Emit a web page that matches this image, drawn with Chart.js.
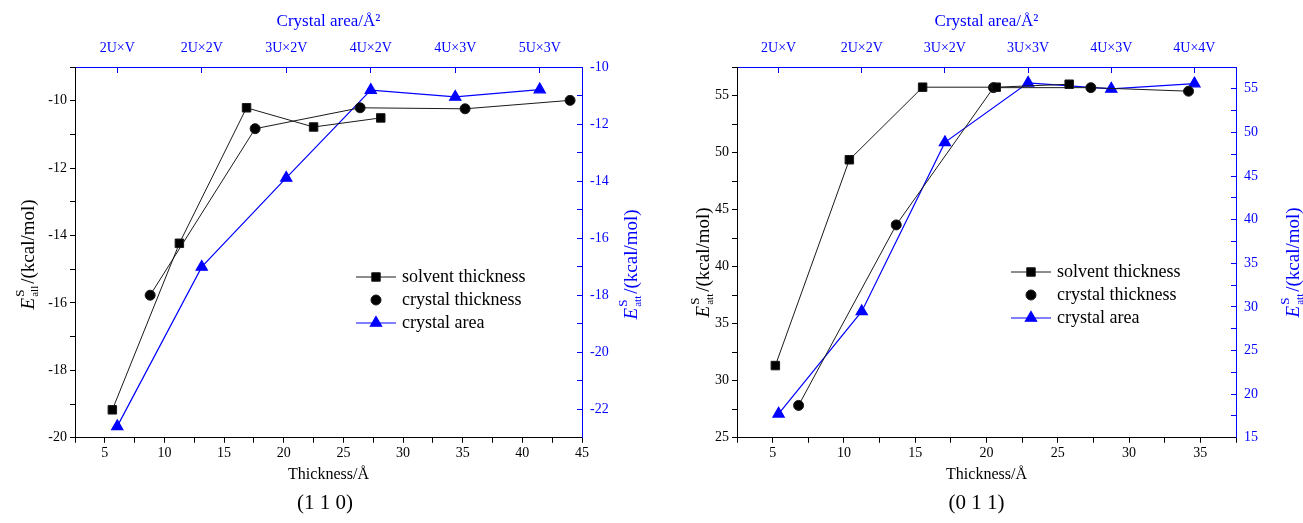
<!DOCTYPE html>
<html>
<head>
<meta charset="utf-8">
<script src="https://cdn.jsdelivr.net/npm/chart.js@4.4.0/dist/chart.umd.min.js"></script>
<style>
body { margin: 0; background: #fff; width: 1303px; height: 523px; overflow: hidden; position: relative; }
.box { position: absolute; top: 0; height: 523px; }
#b1 { left: 0; width: 650px; }
#b2 { left: 650px; width: 653px; }
</style>
</head>
<body>
<div class="box" id="b1"><canvas id="c110" width="650" height="523"></canvas></div>
<div class="box" id="b2"><canvas id="c011" width="653" height="523"></canvas></div>
<script>
// (1 1 0) face
let solvX110 = [5.63, 11.25, 16.88, 22.5, 28.13];
let solvE110 = [-19.17, -14.23, -10.21, -10.78, -10.51];
let crysX110 = [8.8, 17.6, 26.4, 35.2, 44.0];
let crysE110 = [-15.77, -10.83, -10.21, -10.24, -9.99];
let area110 = ["2U×V", "2U×2V", "3U×2V", "4U×2V", "4U×3V", "5U×3V"];
let areaE110 = [-22.6, -17.01, -13.89, -10.81, -11.05, -10.79];

// (0 1 1) face
let solvX011 = [5.19, 10.38, 15.52, 20.68, 25.8];
let solvE011 = [31.33, 49.37, 55.73, 55.73, 55.99];
let crysX011 = [6.82, 13.67, 20.49, 27.32, 34.17];
let crysE011 = [27.84, 43.66, 55.69, 55.69, 55.38];
let area011 = ["2U×V", "2U×2V", "3U×2V", "3U×3V", "4U×3V", "4U×4V"];
let areaE011 = [17.75, 29.48, 48.86, 55.68, 54.99, 55.6];

let legendNames = ["solvent thickness", "crystal thickness", "crystal area"];

const BLUE = "#0000ff";
const BLACK = "#1a1a1a";
const FONT = '"Liberation Serif", "Times New Roman", serif';

// draws E^S_sub/(kcal/mol) rotated, since axis titles can't do sub/sup
const eTitles = {
  id: "eTitles",
  afterDraw(chart, args, opts) {
    const ctx = chart.ctx;
    const mid = (chart.chartArea.top + chart.chartArea.bottom) / 2;
    opts.items.forEach(t => {
      ctx.save();
      ctx.translate(t.x, mid + t.dy);
      ctx.rotate(-Math.PI / 2);
      ctx.fillStyle = t.color;
      ctx.textAlign = "left";
      ctx.textBaseline = "alphabetic";
      ctx.font = "italic 19px " + FONT;
      let wE = ctx.measureText("E").width;
      ctx.font = "12px " + FONT;
      let wS = Math.max(ctx.measureText("S").width, ctx.measureText(t.sub).width);
      ctx.font = "19px " + FONT;
      let wR = ctx.measureText("/(kcal/mol)").width;
      let x0 = -(wE + wS + wR + 2) / 2;
      let base = 7;
      ctx.font = "italic 19px " + FONT;
      ctx.fillText("E", x0, base);
      ctx.font = "13px " + FONT;
      ctx.fillText("S", x0 + wE + 1, base - 10);
      ctx.font = "11px " + FONT;
      ctx.fillText(t.sub, x0 + wE + 1, base + 4);
      ctx.font = "19px " + FONT;
      ctx.fillText("/(kcal/mol)", x0 + wE + wS + 2, base);
      ctx.restore();
    });
  }
};

// legend with line + marker, like the original
const lineLegend = {
  id: "lineLegend",
  afterDraw(chart, args, opts) {
    const ctx = chart.ctx;
    chart.data.datasets.forEach((ds, i) => {
      let y = opts.y + i * opts.gap;
      ctx.save();
      ctx.strokeStyle = ds.borderColor;
      ctx.fillStyle = ds.backgroundColor;
      ctx.lineWidth = ds.borderWidth;
      if (opts.noLine.indexOf(i) < 0) {
        ctx.beginPath();
        ctx.moveTo(opts.x, y);
        ctx.lineTo(opts.x + 40, y);
        ctx.stroke();
      }
      Chart.helpers.drawPoint(ctx, { pointStyle: ds.pointStyle, radius: ds.pointRadius, borderWidth: 1, rotation: 0 }, opts.x + 20, y);
      ctx.fillStyle = "#000";
      ctx.font = "18px " + FONT;
      ctx.textBaseline = "middle";
      ctx.fillText(ds.label, opts.x + 46, y);
      ctx.restore();
    });
  }
};

function makeChart(id, o) {
  let ctx = document.getElementById(id).getContext("2d");
  let solv = o.solvX.map((x, i) => ({ x: x, y: o.solvE[i] }));
  let crys = o.crysX.map((x, i) => ({ x: x, y: o.crysE[i] }));
  let area = o.areaE.map((y, i) => ({ x: i, y: y }));
  let tickFont = { family: FONT, size: 14 };

  return new Chart(ctx, {
    type: "scatter",
    data: {
      datasets: [
        { label: legendNames[0], data: solv, xAxisID: "x", yAxisID: "y", showLine: true,
          borderColor: BLACK, backgroundColor: "#000", borderWidth: 1, pointStyle: "rect", pointRadius: 6 },
        { label: legendNames[1], data: crys, xAxisID: "x", yAxisID: "y", showLine: true,
          borderColor: BLACK, backgroundColor: "#000", borderWidth: 1, pointStyle: "circle", pointRadius: 5 },
        { label: legendNames[2], data: area, xAxisID: "x2", yAxisID: "y2", showLine: true,
          borderColor: BLUE, backgroundColor: BLUE, borderWidth: 1.2, pointStyle: "triangle", pointRadius: 6.5 }
      ]
    },
    options: {
      responsive: false,
      animation: false,
      layout: { padding: 0 },
      scales: {
        x: {
          type: "linear", position: "bottom", min: 2.5, max: o.xMax,
          ticks: { stepSize: 2.5, maxTicksLimit: 100, autoSkip: false, maxRotation: 0, color: "#000", font: tickFont, padding: 2,
            callback: v => (v % 5 === 0 ? v : "") },
          grid: { drawOnChartArea: false, tickLength: 5, tickColor: "#000" },
          border: { color: "#000", width: 1 },
          title: { display: true, text: "Thickness/Å", color: "#000", font: { family: FONT, size: 16 }, padding: { top: 0, bottom: 6 } },
          afterFit: s => { s.height = 53; }
        },
        x2: {
          type: "linear", position: "top", min: -0.5, max: 5.5,
          afterBuildTicks: s => { s.ticks = o.area.map((l, i) => ({ value: i })); },
          ticks: { autoSkip: false, maxRotation: 0, color: BLUE, font: tickFont, padding: 16,
            callback: (v, i) => o.area[i] },
          grid: { drawOnChartArea: false, tickLength: -6, tickColor: BLUE },
          border: { color: BLUE, width: 1 },
          title: { display: true, text: "Crystal area/Å²", color: BLUE, font: { family: FONT, size: 17 }, padding: { top: 11, bottom: 0 } },
          afterFit: s => { s.height = 67; }
        },
        y: {
          type: "linear", position: "left", min: o.yMin, max: o.yMax,
          ticks: { stepSize: o.yStep, maxTicksLimit: 100, autoSkip: false, color: "#000", font: tickFont, padding: 3,
            callback: v => (Math.abs(v % o.yLab) < 1e-6 ? v : "") },
          grid: { drawOnChartArea: false, tickLength: 5, tickColor: "#000" },
          border: { color: "#000", width: 1 },
          afterFit: s => { s.width = o.leftW; }
        },
        y2: {
          type: "linear", position: "right", min: o.y2Min, max: o.y2Max,
          ticks: { stepSize: o.yStep, maxTicksLimit: 100, autoSkip: false, color: BLUE, font: tickFont, padding: 13,
            callback: v => (Math.abs(v % o.yLab) < 1e-6 ? v : "") },
          grid: { drawOnChartArea: false, tickLength: -5, tickColor: BLUE },
          border: { color: BLUE, width: 1 },
          afterFit: s => { s.width = o.rightW; }
        }
      },
      plugins: {
        legend: { display: false },
        tooltip: { enabled: false },
        title: { display: true, position: "bottom", text: o.face, color: "#000",
          font: { family: FONT, size: 21, weight: "normal" }, padding: { top: 0, bottom: 7 } },
        eTitles: { items: o.eTitles },
        lineLegend: o.legend
      }
    },
    plugins: [eTitles, lineLegend]
  });
}

window.onload = function () {
  makeChart("c110", {
    solvX: solvX110, solvE: solvE110, crysX: crysX110, crysE: crysE110, area: area110, areaE: areaE110,
    xMax: 45, yMin: -20, yMax: -9, y2Min: -23, y2Max: -10, yStep: 1, yLab: 2,
    leftW: 75, rightW: 68, face: "(1 1 0)",
    eTitles: [{ x: 27, dy: 2, sub: "all", color: "#000" }, { x: 630, dy: 12, sub: "att", color: BLUE }],
    legend: { x: 356, y: 277, gap: 23, noLine: [1] }
  });
  makeChart("c011", {
    solvX: solvX011, solvE: solvE011, crysX: crysX011, crysE: crysE011, area: area011, areaE: areaE011,
    xMax: 37.5, yMin: 25, yMax: 57.5, y2Min: 15, y2Max: 57.5, yStep: 2.5, yLab: 5,
    leftW: 87, rightW: 67, face: "(0 1 1)",
    eTitles: [{ x: 52, dy: 10, sub: "att", color: "#000" }, { x: 642, dy: 10, sub: "att", color: BLUE }],
    legend: { x: 361, y: 272, gap: 23, noLine: [1] }
  });
};
</script>
</body>
</html>
